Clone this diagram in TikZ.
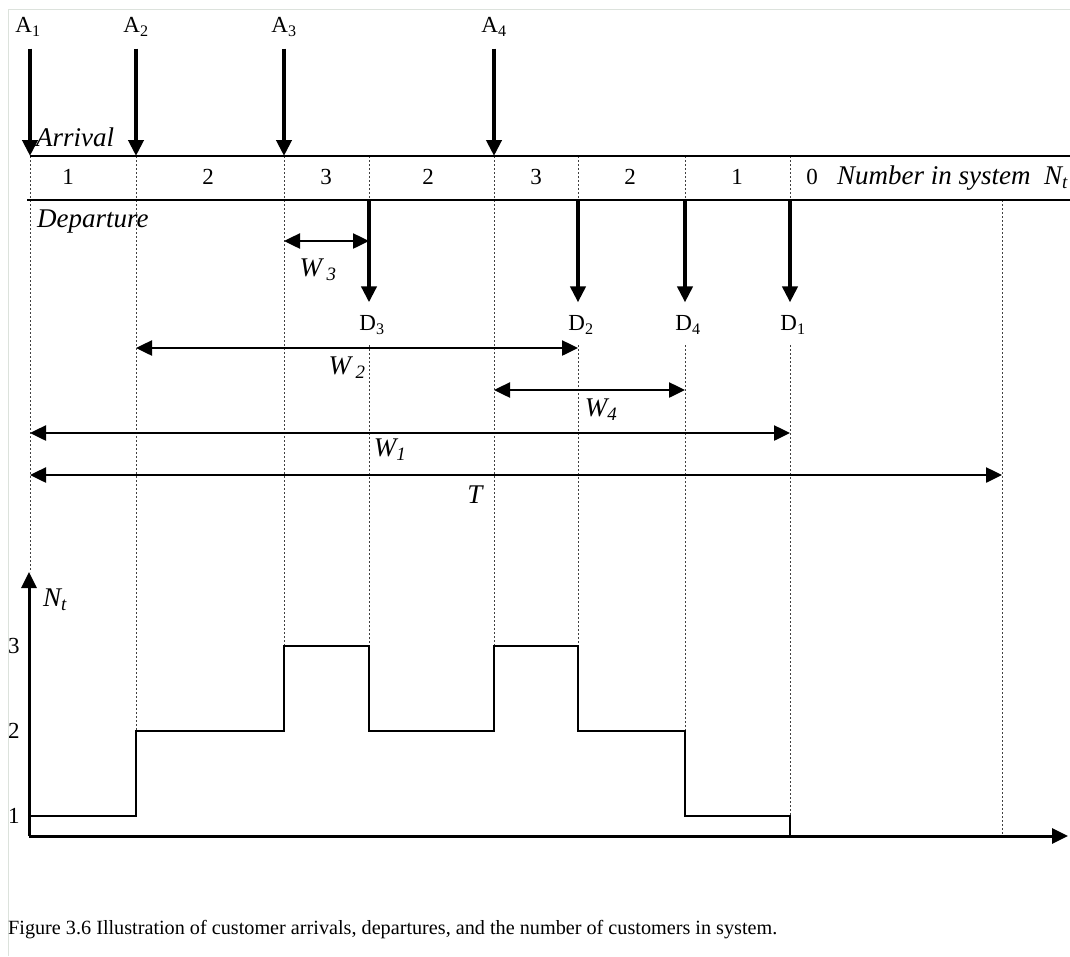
\documentclass[tikz,border=0pt]{standalone}
\usepackage{fontspec}
\setmainfont{Liberation Serif}
\usetikzlibrary{arrows.meta}

\begin{document}
\begin{tikzpicture}[x=1pt, y=-1pt, >={Triangle[length=16pt,width=15pt]},
		every node/.style={inner sep=0pt, font=\fontsize{23}{26}\selectfont},
		lab/.style={font=\fontsize{27}{30}\selectfont\itshape},
		guide/.style={line width=0.8pt, dash pattern=on 2pt off 2pt, black!75},
		evt/.style={->, line width=4pt},
		wait/.style={<->, line width=2.5pt},
		timeline/.style={line width=2pt},
		stairs/.style={line width=2.5pt}]
	\useasboundingbox (0,0) rectangle (1070,956);
	\draw[line width=1pt, green!10!gray!25] (8,956) -- (8,9) -- (1070,9);
	
	% 1. 事件时刻 (到达线 / 离开线上)
	\foreach \n/\x in {a1/30, a2/136, a3/284, d3/369, a4/494, d2/578, d4/685, d1/790, t/1002} {
		\coordinate (\n) at (\x,156);
		\coordinate (\n-dn) at (\x,200);
	}
	
	% 2. 辅助虚线
	\foreach \n/\y in {a1/572, a2/731, a3/646, a4/646} \draw[guide] (\n) -- (\n |- 0,\y);
	\foreach \n/\y in {d3/646, d2/646, d4/731, d1/816} {
		\draw[guide] (\n) -- (\n-dn);
		\draw[guide] (\n |- 0,345) -- (\n |- 0,\y);
	}
	\draw[guide] (t-dn) -- (t |- 0,836);
	
	% 3. 两条时间线
	\draw[timeline] (a1) -- (1070,156);
	\draw[timeline] (27,200) -- (1070,200);
	\node[lab, anchor=west] (arr) at (36,137) {Arrival};
	\node[lab, anchor=west] (dep) at (37,222) {Departure};
	\foreach \x/\k in {68/1, 208/2, 326/3, 428/2, 536/3, 630/2, 737/1, 812/0}
		\node (n\x) at (\x,177) {\k};
	\node[lab, anchor=west] (nsys) at (837,178) {Number in system\ \ N\textsubscript{t}};
	
	% 4. 到达 A_i
	\foreach \i/\x in {1/28, 2/136, 3/284, 4/494} \node (A\i) at (\x,27) {A\textsubscript{\i}};
	\foreach \i in {1,2,3,4} \draw[evt, shorten <=12pt] (a\i |- A\i.south) -- (a\i);
	
	% 5. 离开 D_i
	\foreach \i/\x in {3/372, 2/581, 4/688, 1/793} \node (D\i) at (\x,325) {D\textsubscript{\i}};
	\foreach \i in {1,2,3,4} \draw[evt, shorten >=13pt] (d\i-dn) -- (d\i |- D\i.north);
	
	% 6. 等待时间 W_i 与 T
	\draw[wait] (a3 |- 0,241) -- (d3 |- 0,241);
	\node[lab] (W3) at (318,270) {W\,\textsubscript{3}};
	\draw[wait] (a2 |- 0,348) -- (d2 |- 0,348);
	\node[lab] (W2) at (347,368) {W\,\textsubscript{2}};
	\draw[wait] (a4 |- 0,390) -- (d4 |- 0,390);
	\node[lab] (W4) at (601,410) {W\textsubscript{4}};
	\draw[wait] (a1 |- 0,433) -- (d1 |- 0,433);
	\node[lab] (W1) at (390,450) {W\textsubscript{1}};
	\draw[wait] (a1 |- 0,475) -- (t |- 0,475);
	\node[lab] (T) at (475,495) {T};
	
	% 7. N_t 阶梯图
	\coordinate (O) at (29,836);
	\draw[->, line width=3pt] (O) -- (29,572) coordinate (ytop);
	\draw[->, line width=3pt] (O) -- (1068,836) coordinate (xend);
	\node[lab] (Nt) at (55,600) {N\textsubscript{t}};
	\foreach \k/\y in {1/816, 2/731, 3/646} \node (y\k) at (14,\y) {\k};
	\draw[stairs] (29,816) -| (136,731) -| (284,646) -| (369,731) -| (494,646)
		-| (578,731) -| (685,816) -| (790,836);
	
	% 8. 图注
	\node[anchor=west, font=\fontsize{20.2}{22}\selectfont] (cap) at (8,930)
		{Figure 3.6 Illustration of customer arrivals, departures, and the number of customers in system.};
\end{tikzpicture}
\end{document}
